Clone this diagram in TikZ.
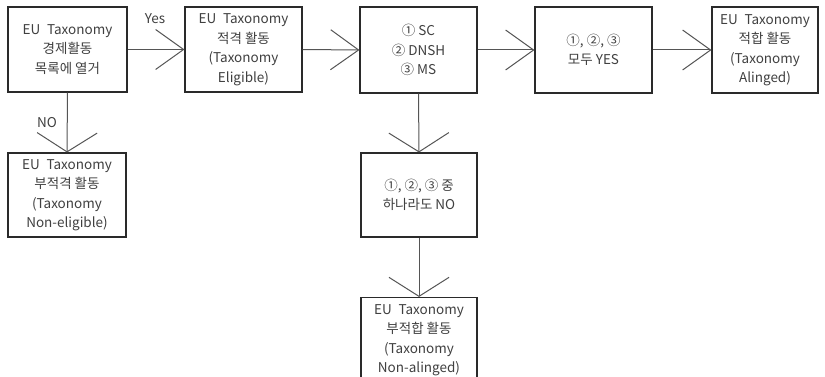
\documentclass[tikz,border=0pt]{standalone}
\usepackage{fontspec}
\setmainfont{Noto Sans CJK KR}
\usetikzlibrary{arrows.meta}
\definecolor{txt}{HTML}{404040}
\definecolor{edge}{HTML}{2A2A2A}
\definecolor{arr}{HTML}{555555}
\newcommand{\eut}{EU\enspace Taxonomy}
\begin{document}
\begin{tikzpicture}[x=1pt,y=-1pt,
  box/.style={draw=edge,line width=1.1pt,text=txt,align=center,inner sep=0pt,
    font=\fontsize{13.5}{19.5}\selectfont},
  lab/.style={text=txt,inner sep=0pt,font=\fontsize{13.5}{15}\selectfont},
  harrow/.style={draw=arr,line width=1pt,-{Straight Barb[length=28pt,width=40pt,line width=1pt]}},
  varrow/.style={draw=arr,line width=1pt,-{Straight Barb[length=19pt,width=60pt,line width=1pt]}}]
\useasboundingbox (0,0) rectangle (825,377);
\clip (0,0) rectangle (825,377);
\fill[white] (0,0) rectangle (825,377);
\node[box,minimum width=119pt,minimum height=85pt] (b1) at (67.5,49.5) {\eut\\경제활동\\목록에 열거};
\node[box,minimum width=117pt,minimum height=85pt] (b2) at (243.5,49.5) {\eut\\적격 활동\\(Taxonomy\\Eligible)};
\node[box,minimum width=117pt,minimum height=86pt] (b3) at (418.5,50) {① SC\\② DNSH\\③ MS};
\node[box,minimum width=117pt,minimum height=86pt] (b4) at (593.5,50) {①, ②, ③\\모두 YES};
\node[box,minimum width=106pt,minimum height=86pt] (b5) at (765,50) {\eut\\적합 활동\\(Taxonomy\\Alinged)};
\node[box,minimum width=118pt,minimum height=84pt] (b6) at (67,195) {\eut\\부적격 활동\\(Taxonomy\\Non-eligible)};
\node[box,minimum width=116pt,minimum height=84pt] (b7) at (419,195) {①, ②, ③ 중\\하나라도 NO};
\node[box,minimum width=116pt,minimum height=85pt] (b8) at (419,340) {\eut\\부적합 활동\\(Taxonomy\\Non-alinged)};
\node[lab] (yes) at (155,19) {Yes};
\node[lab] (no) at (47,123) {NO};
\draw[harrow] (b1.east) -- (b2.west);
\draw[harrow] (b2.east) -- (b3.west);
\draw[harrow] (b3.east) -- (b4.west);
\draw[harrow] (b4.east) -- (b5.west);
\draw[varrow] (b1.south) -- (b6.north);
\draw[varrow] (b3.south) -- (b7.north);
\draw[varrow] (b7.south) -- (b8.north);
\end{tikzpicture}
\end{document}
